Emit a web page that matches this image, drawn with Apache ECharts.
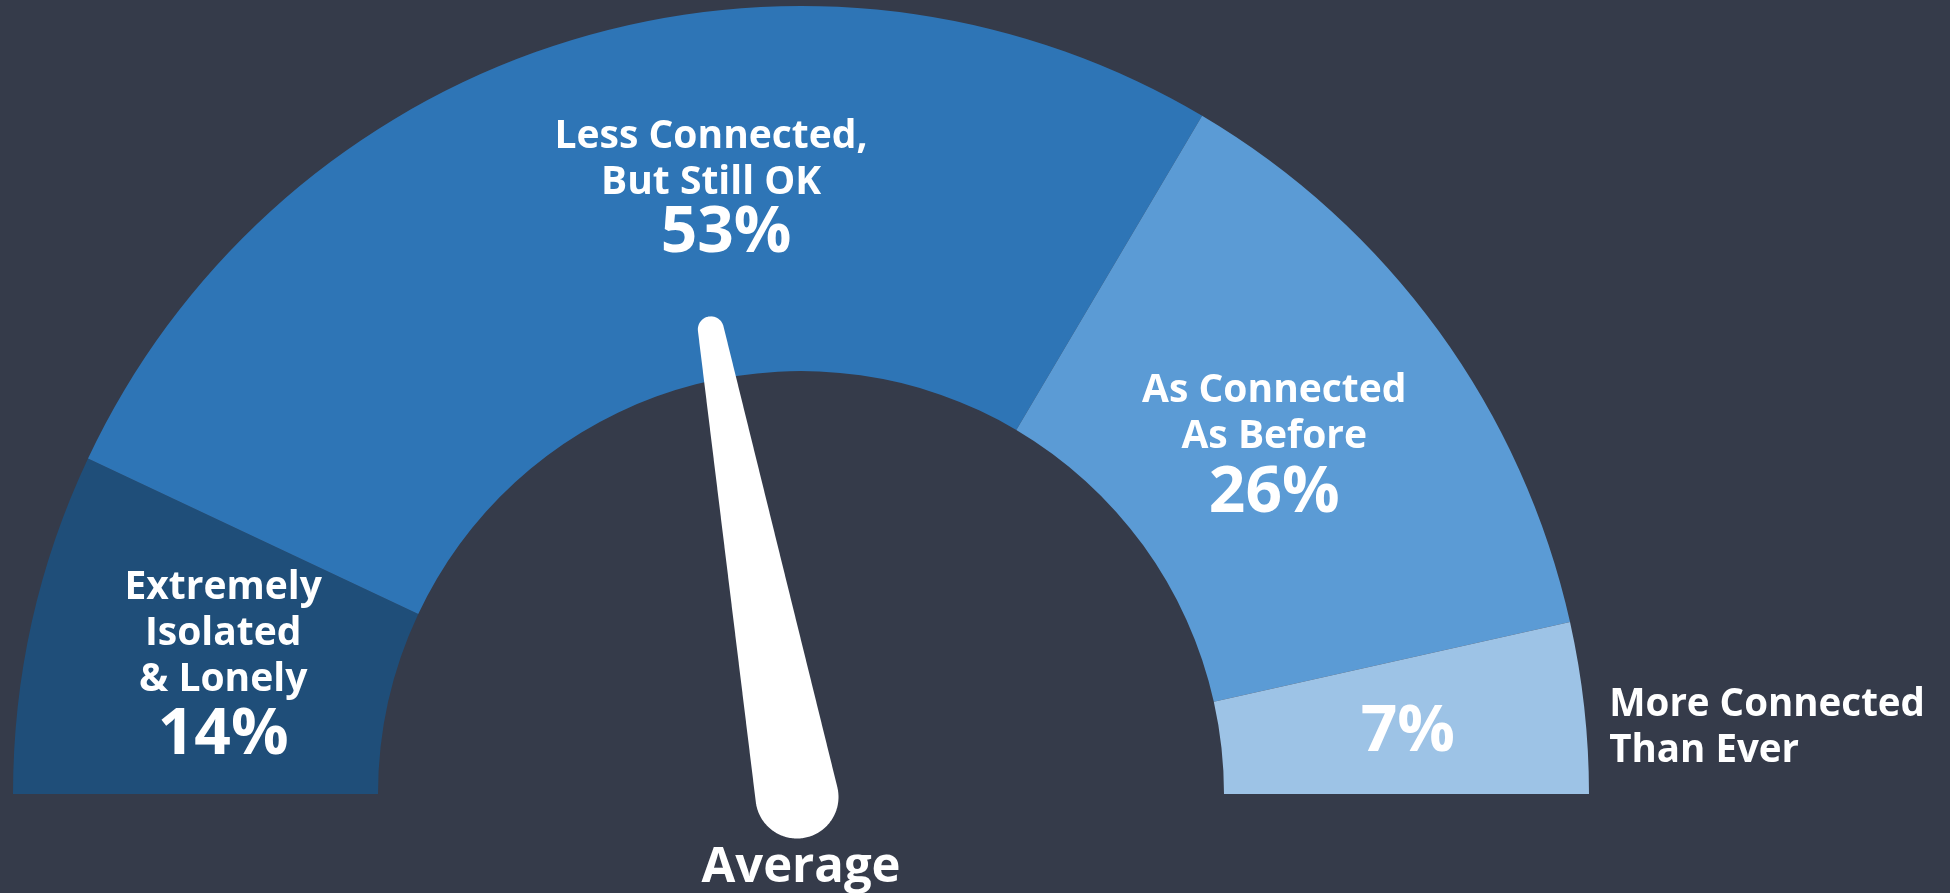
<!DOCTYPE html>
<html>
<head>
<meta charset="utf-8">
<script src="https://cdn.jsdelivr.net/npm/echarts@6/dist/echarts.min.js"></script>
<style>
html,body{margin:0;padding:0;background:#353b4a;}
#chart{width:1950px;height:893px;}
</style>
</head>
<body>
<div id="chart"></div>
<script>
// ---- data ----
const categories = ['Extremely\nIsolated\n& Lonely', 'Less Connected,\nBut Still OK', 'As Connected\nAs Before', 'More Connected\nThan Ever'];
const values = [14, 53, 26, 7];
const averageValue = 44.2;
const averageLabel = 'Average';

// ---- styles ----
const colors = ['#1F4E79', '#2E75B6', '#5B9BD5', '#9DC3E6'];
const labelOffsets = [[16, 6], [89, -25], [-19, 11], [2, 6]];
const outerOffset = [20, 21];
const FONT = '"Open Sans", "Noto Sans", sans-serif';

const richBase = {
  n: { fontSize: 39, fontWeight: 700, lineHeight: 46, color: '#fff', fontFamily: FONT, align: 'center' },
  v: { fontSize: 64, fontWeight: 700, lineHeight: 66, color: '#fff', fontFamily: FONT, align: 'center' }
};
// tighter percent line, nudged right, for the large segment
const richSeg2 = {
  n: richBase.n,
  v: Object.assign({}, richBase.v, { lineHeight: 56, padding: [0, 0, 0, 30] })
};

// needle path (pointing up): round base, rounded narrow tip
function needlePath(R, r, L) {
  const d = L - R - r;
  const phi = Math.asin((R - r) / d);
  const N = 60;
  const pts = [];
  const sx = R, sy = r, bx = R, by = r + d;
  for (let i = 0; i <= N; i++) {
    const t = -phi - (Math.PI - 2 * phi) * i / N;
    pts.push([sx + r * Math.cos(t), sy + r * Math.sin(t)]);
  }
  for (let i = 0; i <= N * 2; i++) {
    const t = (-Math.PI + phi) - (Math.PI + 2 * phi) * i / (N * 2);
    pts.push([bx + R * Math.cos(t), by + R * Math.sin(t)]);
  }
  return 'path://M' + pts.map(p => p[0].toFixed(2) + ' ' + p[1].toFixed(2)).join(' L') + ' Z';
}
const NR = 41.5, Nr = 13, NL = 530;

const chart = echarts.init(document.getElementById('chart'));
const pieData = categories.map((c, i) => {
  const item = { name: c, value: values[i], itemStyle: { color: colors[i] } };
  if (i === 1) item.label = { rich: richSeg2 };
  return item;
});

chart.setOption({
  backgroundColor: '#353b4a',
  animation: false,
  series: [
    {
      type: 'pie',
      center: [801, 794],
      radius: [423, 788],
      startAngle: 180,
      endAngle: 360,
      avoidLabelOverlap: false,
      silent: true,
      data: pieData,
      label: {
        show: true,
        position: 'inside',
        color: '#fff',
        fontFamily: FONT,
        formatter: function (p) {
          if (p.dataIndex === 3) return '{v|' + p.value + '%}';
          return '{n|' + p.name + '}\n{v|' + p.value + '%}';
        },
        rich: richBase
      },
      labelLine: { show: false },
      labelLayout: function (p) {
        const o = labelOffsets[p.dataIndex];
        return { dx: o[0], dy: o[1] };
      }
    },
    {
      type: 'pie',
      center: [801, 794],
      radius: [423, 788],
      startAngle: 180,
      endAngle: 360,
      avoidLabelOverlap: false,
      silent: true,
      z: 1,
      data: categories.map((c, i) => ({
        name: c, value: values[i],
        itemStyle: { color: 'rgba(0,0,0,0)' },
        label: { show: i === 3 }
      })),
      label: {
        position: 'outside',
        color: '#fff',
        fontFamily: FONT,
        fontSize: 38.5,
        fontWeight: 700,
        lineHeight: 46,
        formatter: '{b}'
      },
      labelLine: { show: false, length: 0, length2: 0 },
      labelLayout: function () {
        return { dx: outerOffset[0], dy: outerOffset[1] };
      }
    },
    {
      type: 'gauge',
      z: 5,
      center: [797, 797],
      radius: 500,
      startAngle: 180,
      endAngle: 0,
      min: 0,
      max: 100,
      silent: true,
      axisLine: { show: false },
      splitLine: { show: false },
      axisTick: { show: false },
      axisLabel: { show: false },
      pointer: {
        show: true,
        icon: needlePath(NR, Nr, NL),
        width: NR * 2,
        length: NL,
        offsetCenter: [0, NR],
        itemStyle: { color: '#ffffff' }
      },
      anchor: { show: false },
      title: {
        show: true,
        offsetCenter: [4, 71],
        color: '#fff',
        fontSize: 49,
        fontWeight: 700,
        fontFamily: FONT
      },
      detail: { show: false },
      data: [{ value: averageValue, name: averageLabel }]
    }
  ]
});
</script>
</body>
</html>
